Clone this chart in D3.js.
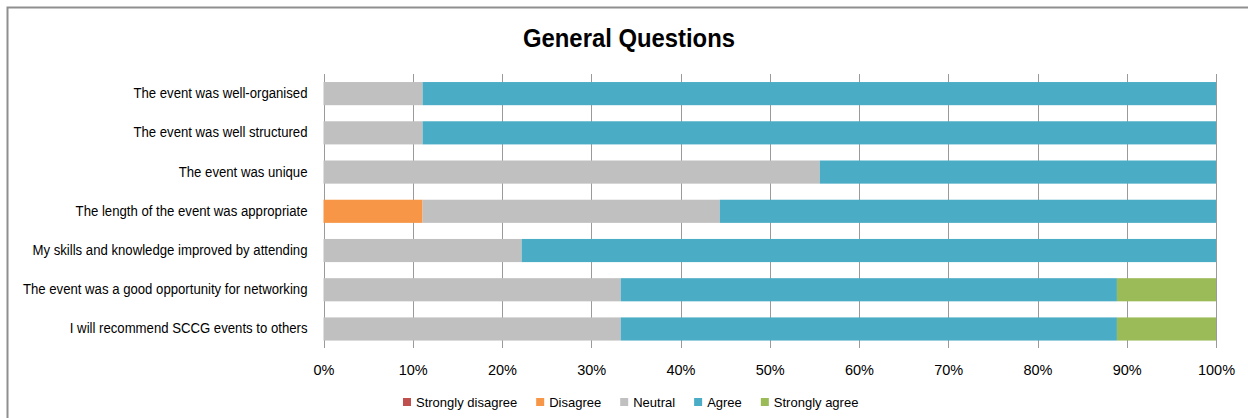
<!DOCTYPE html>
<html>
<head>
<meta charset="utf-8">
<style>
  body { margin: 0; background: #fff; }
  svg { font-family: "Liberation Sans", Arial, sans-serif; display: block; }
</style>
</head>
<body>
<svg width="1248" height="418"></svg>
<script src="https://d3js.org/d3.v7.min.js"></script>
<script>

// survey answers, percent of respondents per statement
var categories = [
  "The event was well-organised",
  "The event was well structured",
  "The event was unique",
  "The length of the event was appropriate",
  "My skills and knowledge improved by attending",
  "The event was a good opportunity for networking",
  "I will recommend SCCG events to others"
];
var stronglyDisagree = [0, 0, 0, 0, 0, 0, 0];
var disagree         = [0, 0, 0, 11.1, 0, 0, 0];
var neutral          = [11.1, 11.1, 55.6, 33.3, 22.2, 33.3, 33.3];
var agree            = [88.9, 88.9, 44.4, 55.6, 77.8, 55.6, 55.6];
var stronglyAgree    = [0, 0, 0, 0, 0, 11.1, 11.1];

var seriesNames = ["Strongly disagree", "Disagree", "Neutral", "Agree", "Strongly agree"];
var seriesValues = [stronglyDisagree, disagree, neutral, agree, stronglyAgree];
var colors = ["#C0504D", "#F79646", "#C0C0C0", "#4BACC6", "#9BBB59"];
var tickValues = [0, 10, 20, 30, 40, 50, 60, 70, 80, 90, 100];

var svg = d3.select("svg");

// outer chart frame (runs off the right/bottom edge like the original)
svg.append("rect")
    .attr("x", 7.5).attr("y", 7.5)
    .attr("width", 1300).attr("height", 500)
    .attr("fill", "none")
    .attr("stroke", "#8f8f8f")
    .attr("stroke-width", 2);

var rows = categories.map(function(c, i) {
  var r = { name: c };
  seriesNames.forEach(function(s, j) { r[s] = seriesValues[j][i]; });
  return r;
});

var x = d3.scaleLinear().domain([0, 100]).range([323.5, 1216]);
var y = d3.scaleBand().domain(categories).range([74, 348.6])
    .paddingInner(0.41).paddingOuter(0.205);
var color = d3.scaleOrdinal().domain(seriesNames).range(colors);

// vertical gridlines
svg.append("g")
  .selectAll("line")
  .data(tickValues)
  .enter().append("line")
    .attr("x1", function(d) { return Math.round(x(d)) + 0.5; })
    .attr("x2", function(d) { return Math.round(x(d)) + 0.5; })
    .attr("y1", 74)
    .attr("y2", 348)
    .attr("stroke", "#9a9a9a")
    .attr("stroke-width", 1);

var stack = d3.stack().keys(seriesNames);

svg.append("g")
  .selectAll("g")
  .data(stack(rows))
  .enter().append("g")
    .attr("fill", function(d) { return color(d.key); })
  .selectAll("rect")
  .data(function(d) { return d; })
  .enter().append("rect")
    .attr("x", function(d) { return x(d[0]); })
    .attr("y", function(d) { return y(d.data.name); })
    .attr("width", function(d) { return x(d[1]) - x(d[0]); })
    .attr("height", y.bandwidth());

// category labels (original font is a bit narrow, so squeeze a little)
var yAxis = svg.append("g")
    .attr("transform", "translate(323.5,0)")
    .call(d3.axisLeft(y).tickSize(0).tickPadding(16));
yAxis.select(".domain").remove();
yAxis.selectAll("text").attr("font-size", 14).attr("fill", "#000")
    .attr("font-family", "Liberation Sans, Arial, sans-serif")
    .each(function() {
      var w = this.getComputedTextLength();
      d3.select(this).attr("textLength", w * 0.94).attr("lengthAdjust", "spacingAndGlyphs");
    });

// percent labels
var xAxis = svg.append("g")
    .attr("transform", "translate(0,348)")
    .call(d3.axisBottom(x).tickValues(tickValues).tickSize(0).tickPadding(16.7)
      .tickFormat(function(d) { return d + "%"; }));
xAxis.select(".domain").remove();
xAxis.selectAll("text").attr("font-size", 14.5).attr("fill", "#000")
    .attr("font-family", "Liberation Sans, Arial, sans-serif");

// title
svg.append("text")
    .attr("x", 629)
    .attr("y", 47)
    .attr("text-anchor", "middle")
    .attr("font-size", 25.5)
    .attr("font-weight", "bold")
    .attr("textLength", 212)
    .attr("lengthAdjust", "spacingAndGlyphs")
    .text("General Questions");

// legend
var legend = svg.append("g").attr("font-size", 13);
var lx = 403;
seriesNames.forEach(function(s) {
  legend.append("rect")
      .attr("x", lx).attr("y", 398)
      .attr("width", 8).attr("height", 8)
      .attr("fill", color(s));
  var t = legend.append("text")
      .attr("x", lx + 13).attr("y", 406.5)
      .text(s);
  lx += 13 + t.node().getComputedTextLength() + 19;
});

</script>
</body>
</html>
